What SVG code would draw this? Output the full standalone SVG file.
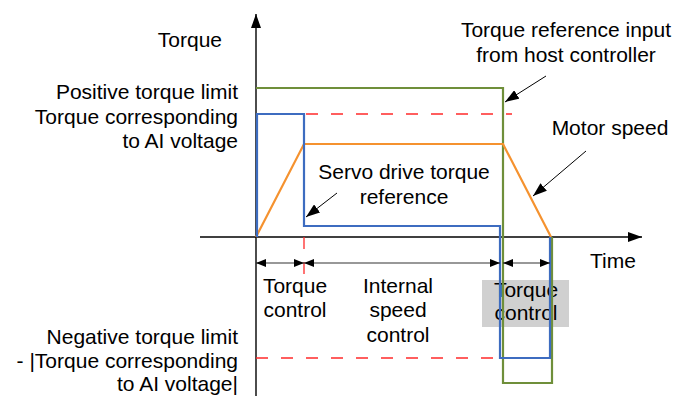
<svg xmlns="http://www.w3.org/2000/svg" width="685" height="396" viewBox="0 0 685 396">
<defs>
<style>
text{font-family:"Liberation Sans",Arial,sans-serif;font-size:21px;fill:#000}
.e{text-anchor:end}
.m{text-anchor:middle}
.ax{stroke:#000;stroke-width:1.4;fill:none}
.dim{stroke:#333;stroke-width:1.2;fill:none}
.ptr{stroke:#000;stroke-width:1;fill:none}
.g{stroke:#6f8f3a;stroke-width:2.2;fill:none}
.b{stroke:#3d6cc0;stroke-width:2.2;fill:none}
.o{stroke:#f5922f;stroke-width:2.2;fill:none}
.r{stroke:#ff2a2a;stroke-width:1.3;fill:none;stroke-dasharray:12 13}
</style>
<marker id="ah" viewBox="0 0 14 10" refX="14" refY="5" markerWidth="14" markerHeight="10" markerUnits="userSpaceOnUse" orient="auto">
<path d="M0,0 L14,5 L0,10 Z" fill="#000"/>
</marker>
<marker id="dh" viewBox="0 0 10 8" refX="10" refY="4" markerWidth="10" markerHeight="8" markerUnits="userSpaceOnUse" orient="auto-start-reverse">
<path d="M0,0 L10,4 L0,8 Z" fill="#000"/>
</marker>
</defs>
<rect width="685" height="396" fill="#fff"/>
<g id="torque-control-box">
<rect x="482" y="280" width="87" height="47" fill="#d0d0d0"/>
<text class="m" x="526" y="297">Torque</text>
<text class="m" x="526" y="320">control</text>
</g>
<g id="axes">
<line class="ax" x1="256" y1="396" x2="256" y2="14" marker-end="url(#ah)"/>
<line class="ax" x1="200" y1="237" x2="642" y2="237" marker-end="url(#ah)"/>
</g>
<g id="limits">
<line class="r" x1="256" y1="114" x2="512" y2="114"/>
<line class="r" x1="256" y1="358" x2="512" y2="358"/>
<line class="r" x1="304" y1="212" x2="304" y2="278"/>
</g>
<g id="host-reference">
<polyline class="g" points="256,88 503,88 503,383 552,383 552,237"/>
</g>
<g id="motor-speed">
<polyline class="o" points="256,237 304,144 503,144 551,237"/>
</g>
<g id="servo-reference">
<polyline class="b" points="257,237 257,114 304,114 304,226 500,226 500,358 550,358 550,237"/>
</g>
<g id="connectors">
<line class="dim" x1="256" y1="263" x2="304" y2="263" marker-start="url(#dh)" marker-end="url(#dh)"/>
<line class="dim" x1="304" y1="263" x2="500" y2="263" marker-start="url(#dh)" marker-end="url(#dh)"/>
<line class="dim" x1="503" y1="263" x2="550" y2="263" marker-start="url(#dh)" marker-end="url(#dh)"/>
<line class="ptr" x1="546" y1="76" x2="505" y2="102" marker-end="url(#ah)"/>
<line class="ptr" x1="586" y1="151" x2="533" y2="196" marker-end="url(#ah)"/>
<line class="ptr" x1="337" y1="193" x2="306" y2="217" marker-end="url(#ah)"/>
</g>
<g id="labels">
<text class="e" x="222" y="47">Torque</text>
<text class="e" x="238" y="99">Positive torque limit</text>
<text class="e" x="238" y="124">Torque corresponding</text>
<text class="e" x="238" y="148">to AI voltage</text>
<text class="e" x="238" y="344">Negative torque limit</text>
<text class="e" x="238" y="368">- |Torque corresponding</text>
<text class="e" x="238" y="391">to AI voltage|</text>
<text class="m" x="566" y="37">Torque reference input</text>
<text class="m" x="566" y="62">from host controller</text>
<text class="m" x="610" y="135">Motor speed</text>
<text class="m" x="404" y="179">Servo drive torque</text>
<text class="m" x="404" y="204">reference</text>
<text x="590" y="268">Time</text>
<text class="m" x="295" y="293">Torque</text>
<text class="m" x="295" y="317">control</text>
<text class="m" x="398" y="293">Internal</text>
<text class="m" x="398" y="317">speed</text>
<text class="m" x="398" y="342">control</text>
</g>
</svg>
